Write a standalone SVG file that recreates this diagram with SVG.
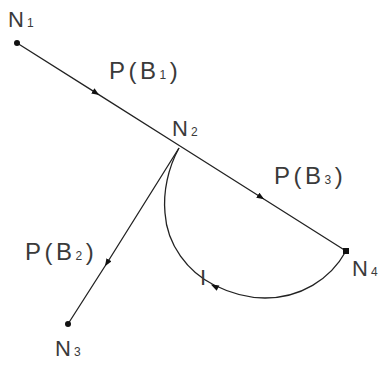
<svg xmlns="http://www.w3.org/2000/svg" width="384" height="366" viewBox="0 0 384 366">
<style>
.l{fill:none;stroke:#222;stroke-width:1.3}
.t{font-family:"Liberation Sans",Arial,sans-serif;font-size:22px;fill:#3a3a3a;letter-spacing:3px}
.p{font-size:24px;letter-spacing:3.5px}
.s{font-size:12px}
.d{fill:#111}
</style>
<defs>
<marker id="a" viewBox="0 0 10 8" refX="5" refY="4" markerWidth="8" markerHeight="6" markerUnits="userSpaceOnUse" orient="auto"><path d="M0,0 L10,4 L0,8 Z" fill="#111"/></marker>
</defs>
<rect width="384" height="366" fill="#fff"/>
<g id="connectors">
<path class="l" d="M17,43 L96,92.9 L180,146" marker-mid="url(#a)"/>
<path class="l" d="M180,146 L261,197.2 L346,251" marker-mid="url(#a)"/>
<path class="l" d="M179,148 L107,263 L68,324" marker-mid="url(#a)"/>
<path class="l" d="M179,148 C168,168 163,192 165,213 C167,245 188,272 214,285 C230,293 248,298 265,298 C300,298 330,280 346,251"/>
<path d="M0,0 L10,4 L0,8 Z" fill="#111" transform="translate(214,285) rotate(206.6) translate(-5,-4) scale(0.8,0.75)"/>
</g>
<g id="N1"><circle class="d" cx="17" cy="43" r="3"/><text class="t" x="8" y="27">N<tspan class="s">1</tspan></text></g>
<g id="N2"><text class="t" x="172" y="136">N<tspan class="s">2</tspan></text></g>
<g id="N3"><circle class="d" cx="68" cy="324" r="3"/><text class="t" x="55" y="356">N<tspan class="s">3</tspan></text></g>
<g id="N4"><rect class="d" x="343" y="248" width="6" height="6"/><text class="t" x="352" y="276">N<tspan class="s">4</tspan></text></g>
<g id="labels">
<text class="t p" x="109" y="79">P(B<tspan class="s">1</tspan>)</text>
<text class="t p" x="274" y="184">P(B<tspan class="s">3</tspan>)</text>
<text class="t p" x="25" y="260">P(B<tspan class="s">2</tspan>)</text>
<text class="t" x="200" y="285">I</text>
</g>
</svg>
